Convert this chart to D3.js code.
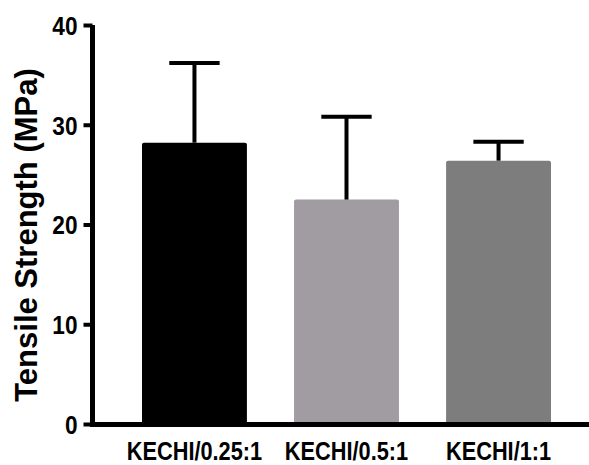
<!DOCTYPE html>
<html>
<head>
<meta charset="utf-8">
<script src="https://d3js.org/d3.v7.min.js"></script>
<style>
  body{margin:0;background:#fff;}
  text{font-family:"Liberation Sans",Arial,sans-serif;font-weight:bold;fill:#000;}
</style>
</head>
<body>
<div id="chart"></div>
<script>
var categories = ["KECHI/0.25:1","KECHI/0.5:1","KECHI/1:1"];
var means = [28.2, 22.5, 26.4];
var sds = [8.0, 8.3, 1.9];
var barColors = ["#000000","#a19ca2","#7d7d7d"];
var yTicks = [0,10,20,30,40];

var width = 589, height = 465;
var squeeze = 0.87; // text in the picture is a bit narrow

var svg = d3.select("#chart").append("svg")
	.attr("width",width)
	.attr("height",height);

var x = d3.scaleBand()
	.domain(categories)
	.range([142,551])
	.paddingInner(0.31)
	.paddingOuter(0);

var y = d3.scaleLinear()
	.domain([0,40])
	.range([424,25]);

var data = categories.map(function(c,i){
	return {key:c, mean:means[i], sd:sds[i], color:barColors[i]};
});

// bars
svg.selectAll("rect.bar")
	.data(data)
	.enter()
	.append("rect")
	.attr("class","bar")
	.attr("x",function(d){return x(d.key);})
	.attr("y",function(d){return y(d.mean);})
	.attr("width",x.bandwidth())
	.attr("height",function(d){return y(0)-y(d.mean);})
	.attr("rx",2)
	.style("fill",function(d){return d.color;});

// error bars (upper only)
var capW = x.bandwidth()*0.48;
var err = svg.selectAll("g.err")
	.data(data)
	.enter()
	.append("g")
	.attr("class","err")
	.style("stroke","#000")
	.style("stroke-width","4px");
err.append("line")
	.attr("x1",function(d){return x(d.key)+x.bandwidth()/2;})
	.attr("x2",function(d){return x(d.key)+x.bandwidth()/2;})
	.attr("y1",function(d){return y(d.mean);})
	.attr("y2",function(d){return y(d.mean+d.sd);});
err.append("line")
	.attr("x1",function(d){return x(d.key)+x.bandwidth()/2-capW/2;})
	.attr("x2",function(d){return x(d.key)+x.bandwidth()/2+capW/2;})
	.attr("y1",function(d){return y(d.mean+d.sd);})
	.attr("y2",function(d){return y(d.mean+d.sd);});

// y axis
var yAxis = svg.append("g")
	.attr("transform","translate(92.5,0)")
	.call(d3.axisLeft(y).tickValues(yTicks).tickSize(9).tickPadding(0).tickSizeOuter(0));
yAxis.select(".domain")
	.attr("d","M0,"+y(40)+"V"+(y(0)+2.5))
	.style("stroke-width","5px");
yAxis.selectAll(".tick line").style("stroke-width","4px");
yAxis.selectAll(".tick text")
	.attr("x",-15/squeeze)
	.attr("dy","0.36em")
	.attr("transform","scale("+squeeze+",1)")
	.style("font-size","26px")
	.style("font-family","Liberation Sans, Arial, sans-serif")
	.style("font-weight","bold");

// x axis line
svg.append("line")
	.attr("x1",90)
	.attr("x2",width)
	.attr("y1",y(0)+0.5)
	.attr("y2",y(0)+0.5)
	.style("stroke","#000")
	.style("stroke-width","5px");

// category labels
svg.selectAll("text.cat")
	.data(categories)
	.enter()
	.append("text")
	.attr("class","cat")
	.attr("transform",function(d){return "translate("+(x(d)+x.bandwidth()/2)+",459.5) scale("+squeeze+",1)";})
	.attr("text-anchor","middle")
	.style("font-size","25px")
	.text(function(d){return d;});

// y axis title
svg.append("text")
	.attr("transform","translate(37,235) rotate(-90)")
	.attr("text-anchor","middle")
	.style("font-size","31px")
	.text("Tensile Strength (MPa)");
</script>
</body>
</html>
